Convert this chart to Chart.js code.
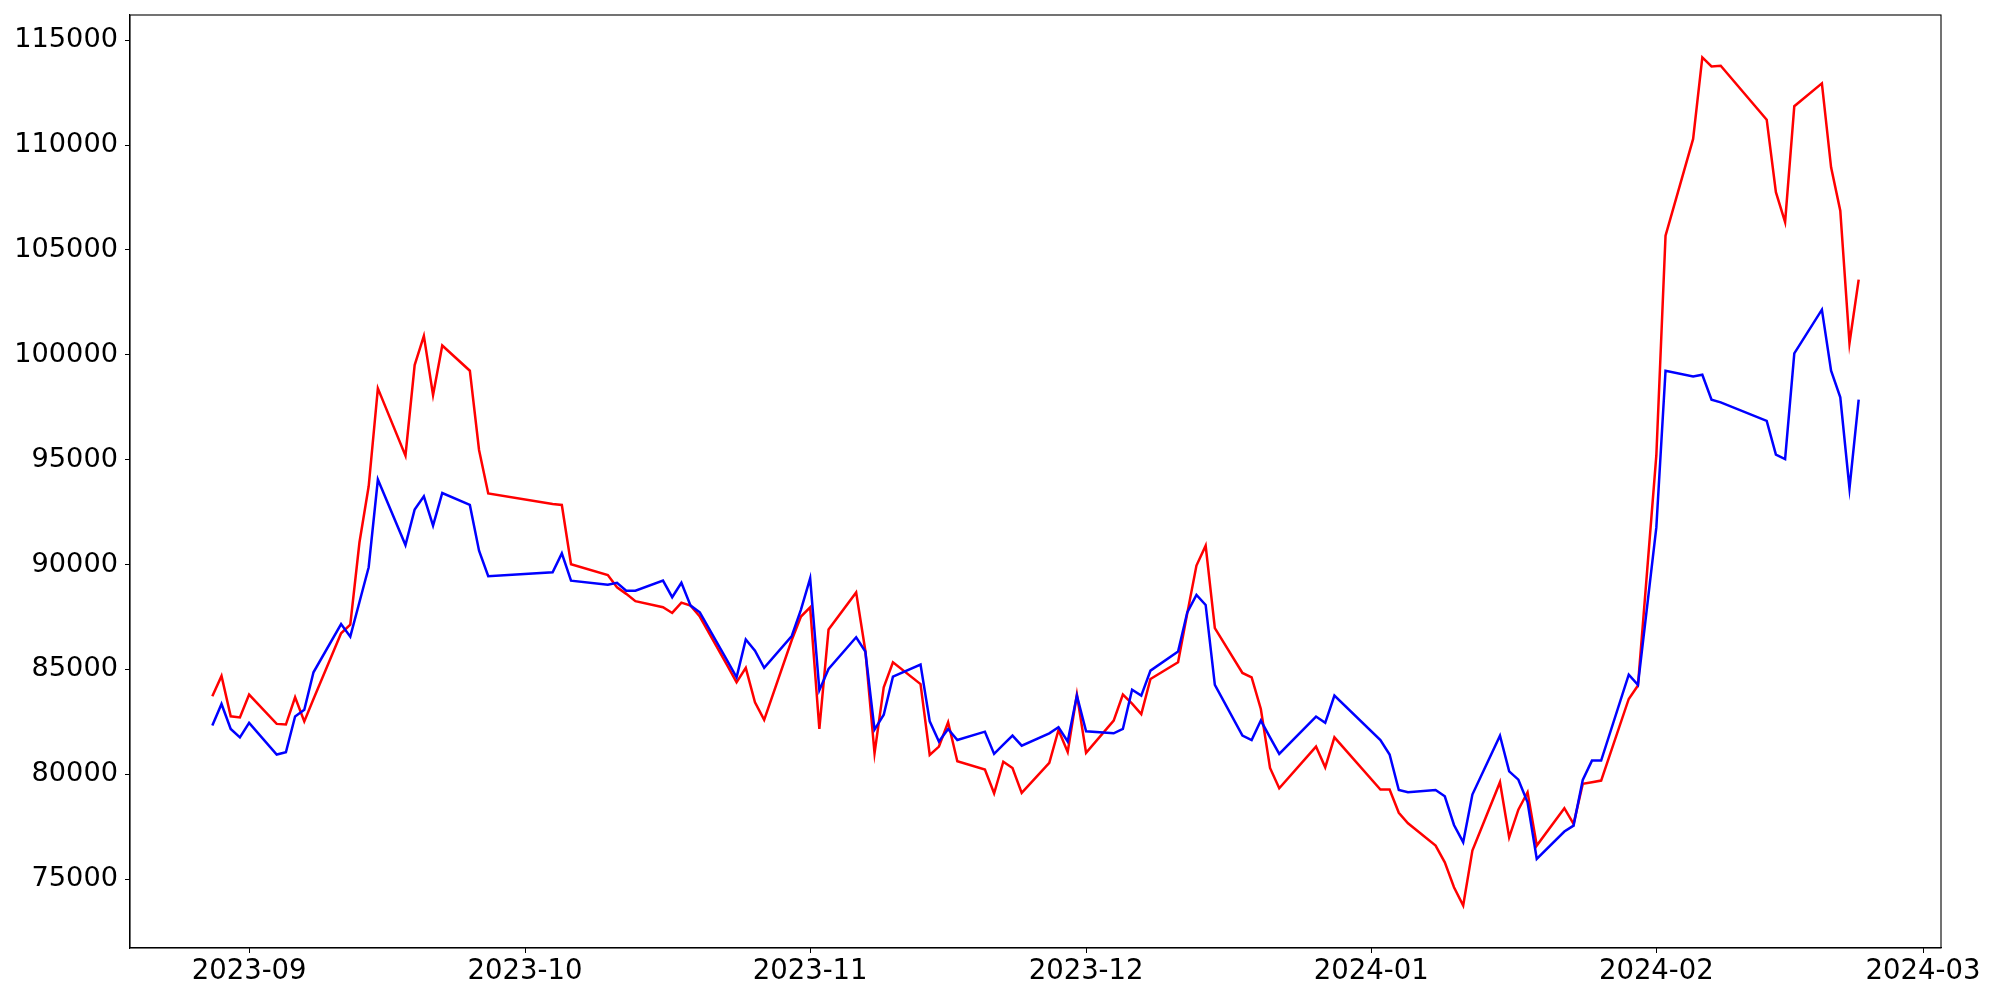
<!DOCTYPE html>
<html>
<head>
<meta charset="utf-8">
<script src="https://cdn.jsdelivr.net/npm/chart.js@4/dist/chart.umd.min.js"></script>
<style>
  html, body { margin: 0; padding: 0; background: #fff; }
  canvas { display: block; }
</style>
</head>
<body>
<canvas id="lineChart" width="2000" height="1000"></canvas>
<script>
// trading days shown on the chart
const dates = [
    '2023-08-28', '2023-08-29', '2023-08-30', '2023-08-31', '2023-09-01',
    '2023-09-04', '2023-09-05', '2023-09-06', '2023-09-07', '2023-09-08',
    '2023-09-11', '2023-09-12', '2023-09-13', '2023-09-14', '2023-09-15',
    '2023-09-18', '2023-09-19', '2023-09-20', '2023-09-21', '2023-09-22',
    '2023-09-25', '2023-09-26', '2023-09-27',
    '2023-10-04', '2023-10-05', '2023-10-06',
    '2023-10-10', '2023-10-11', '2023-10-12', '2023-10-13',
    '2023-10-16', '2023-10-17', '2023-10-18', '2023-10-19', '2023-10-20',
    '2023-10-23', '2023-10-24', '2023-10-25', '2023-10-26', '2023-10-27',
    '2023-10-30', '2023-10-31', '2023-11-01', '2023-11-02', '2023-11-03',
    '2023-11-06', '2023-11-07', '2023-11-08', '2023-11-09', '2023-11-10',
    '2023-11-13', '2023-11-14', '2023-11-15', '2023-11-16', '2023-11-17',
    '2023-11-20', '2023-11-21', '2023-11-22', '2023-11-23', '2023-11-24',
    '2023-11-27', '2023-11-28', '2023-11-29', '2023-11-30', '2023-12-01',
    '2023-12-04', '2023-12-05', '2023-12-06', '2023-12-07', '2023-12-08',
    '2023-12-11', '2023-12-12', '2023-12-13', '2023-12-14', '2023-12-15',
    '2023-12-18', '2023-12-19', '2023-12-20', '2023-12-21', '2023-12-22',
    '2023-12-26', '2023-12-27', '2023-12-28',
    '2024-01-02', '2024-01-03', '2024-01-04', '2024-01-05',
    '2024-01-08', '2024-01-09', '2024-01-10', '2024-01-11', '2024-01-12',
    '2024-01-15', '2024-01-16', '2024-01-17', '2024-01-18', '2024-01-19',
    '2024-01-22', '2024-01-23', '2024-01-24', '2024-01-25', '2024-01-26',
    '2024-01-29', '2024-01-30', '2024-01-31', '2024-02-01', '2024-02-02',
    '2024-02-05', '2024-02-06', '2024-02-07', '2024-02-08',
    '2024-02-13', '2024-02-14', '2024-02-15', '2024-02-16',
    '2024-02-19', '2024-02-20', '2024-02-21', '2024-02-22', '2024-02-23'
];

const redValues = [
    83720, 84690, 82760, 82710, 83800,
    82400, 82370, 83670, 82520, 83590,
    86720, 87130, 91060, 93730, 98400,
    95190, 99510, 100900, 98080, 100440,
    99240, 95460, 93390,
    92890, 92840, 90010,
    89500, 88910, 88600, 88250,
    87960, 87690, 88180, 88040, 87520,
    85180, 84380, 85070, 83430, 82590,
    86400, 87520, 87960, 82160, 86900,
    88670, 85890, 81000, 84150, 85340,
    84300, 80920, 81320, 82480, 80620,
    80220, 79090, 80600, 80300, 79110,
    80540, 82110, 81060, 83800, 81020,
    82560, 83800, 83370, 82870, 84540,
    85340, 87670, 89950, 90900, 86970,
    84830, 84620, 83110, 80300, 79330,
    81320, 80330, 81760,
    79270, 79270, 78160, 77660,
    76600, 75800, 74610, 73740, 76360,
    79620, 76990, 78310, 79140, 76600,
    78380, 77630, 79540, 79620, 79700,
    83590, 84230, 89700, 95200, 105680,
    110290, 114180, 113750, 113780,
    111210, 107750, 106320, 111850,
    112940, 108940, 106870, 100550, 103580
];

const blueValues = [
    82320, 83350, 82160, 81760, 82450,
    80940, 81050, 82750, 83070, 84860,
    87160, 86560, 88210, 89870, 94050,
    90930, 92620, 93250, 91850, 93410,
    92840, 90660, 89440,
    89630, 90530, 89230,
    89040, 89130, 88750, 88750,
    89230, 88440, 89130, 88040, 87720,
    85400, 84620, 86430, 85890, 85070,
    86590, 87850, 89340, 84010, 85020,
    86530, 85850, 82130, 82840, 84650,
    85230, 82520, 81560, 82160, 81630,
    82030, 80970, 81410, 81840, 81360,
    81950, 82240, 81560, 83750, 82050,
    81950, 82160, 84030, 83750, 84940,
    85850, 87720, 88550, 88070, 84260,
    81840, 81630, 82560, 81760, 80970,
    82750, 82450, 83750,
    81630, 80940, 79250, 79140,
    79250, 78950, 77580, 76760, 79030,
    81840, 80140, 79740, 78660, 75960,
    77270, 77550, 79730, 80650, 80650,
    84750, 84260, 88000, 91770, 99240,
    98960, 99050, 97860, 97730,
    96850, 95240, 95030, 100070,
    102150, 99240, 97970, 93630, 97860
];

const monthTicks = ['2023-09-01', '2023-10-01', '2023-11-01', '2023-12-01', '2024-01-01', '2024-02-01', '2024-03-01'];
const yTicks = [75000, 80000, 85000, 90000, 95000, 100000, 105000, 110000, 115000];

// day number (UTC) for a 'YYYY-MM-DD' string
function toDay(s) {
    const p = s.split('-').map(Number);
    return Date.UTC(p[0], p[1] - 1, p[2]) / 86400000;
}

const fontFamily = '"DejaVu Sans", sans-serif';

const firstDay = toDay(dates[0]);
const lastDay = toDay(dates[dates.length - 1]);
const xPad = (lastDay - firstDay) * 0.05;

// black frame around the plot area, like matplotlib spines
const frame = {
    id: 'frame',
    afterDraw(chart) {
        const a = chart.chartArea;
        const ctx = chart.ctx;
        ctx.save();
        ctx.strokeStyle = '#000';
        ctx.lineWidth = 1.1;
        ctx.strokeRect(a.left, a.top, a.right - a.left, a.bottom - a.top);
        ctx.restore();
    }
};

new Chart(document.getElementById('lineChart').getContext('2d'), {
    type: 'line',
    data: {
        datasets: [
            {
                label: 'red',
                data: dates.map((d, i) => ({ x: toDay(d), y: redValues[i] })),
                borderColor: '#ff0000',
                borderWidth: 2.5,
                pointRadius: 0,
                fill: false,
                tension: 0,
                order: 1
            },
            {
                label: 'blue',
                data: dates.map((d, i) => ({ x: toDay(d), y: blueValues[i] })),
                borderColor: '#0000ff',
                borderWidth: 2.5,
                pointRadius: 0,
                fill: false,
                tension: 0,
                order: 0
            }
        ]
    },
    options: {
        responsive: false,
        animation: false,
        devicePixelRatio: 1,
        layout: { padding: { left: 0, top: 15, right: 59, bottom: 0 } },
        plugins: {
            legend: { display: false },
            tooltip: { enabled: false }
        },
        scales: {
            x: {
                type: 'linear',
                min: firstDay - xPad,
                max: lastDay + xPad,
                afterBuildTicks: s => { s.ticks = monthTicks.map(m => ({ value: toDay(m) })); },
                afterFit: s => { s.height = 52; },
                ticks: {
                    color: '#000',
                    font: { family: fontFamily, size: 27.5 },
                    padding: 2,
                    maxRotation: 0,
                    autoSkip: false,
                    callback: v => {
                        const m = monthTicks.find(t => toDay(t) === v);
                        return m ? m.slice(0, 7) : '';
                    }
                },
                grid: { drawOnChartArea: false, drawTicks: true, tickLength: 5, color: '#000' },
                border: { display: true, color: '#000', width: 1.1 }
            },
            y: {
                type: 'linear',
                min: 71715,
                max: 116200,
                afterBuildTicks: s => { s.ticks = yTicks.map(v => ({ value: v })); },
                afterFit: s => { s.width = 130; },
                ticks: {
                    color: '#000',
                    font: { family: fontFamily, size: 27.2, lineHeight: 0.5 },
                    padding: 7,
                    callback: v => String(v)
                },
                grid: { drawOnChartArea: false, drawTicks: true, tickLength: 5, color: '#000' },
                border: { display: true, color: '#000', width: 1.1 }
            }
        }
    },
    plugins: [frame]
});
</script>
</body>
</html>
